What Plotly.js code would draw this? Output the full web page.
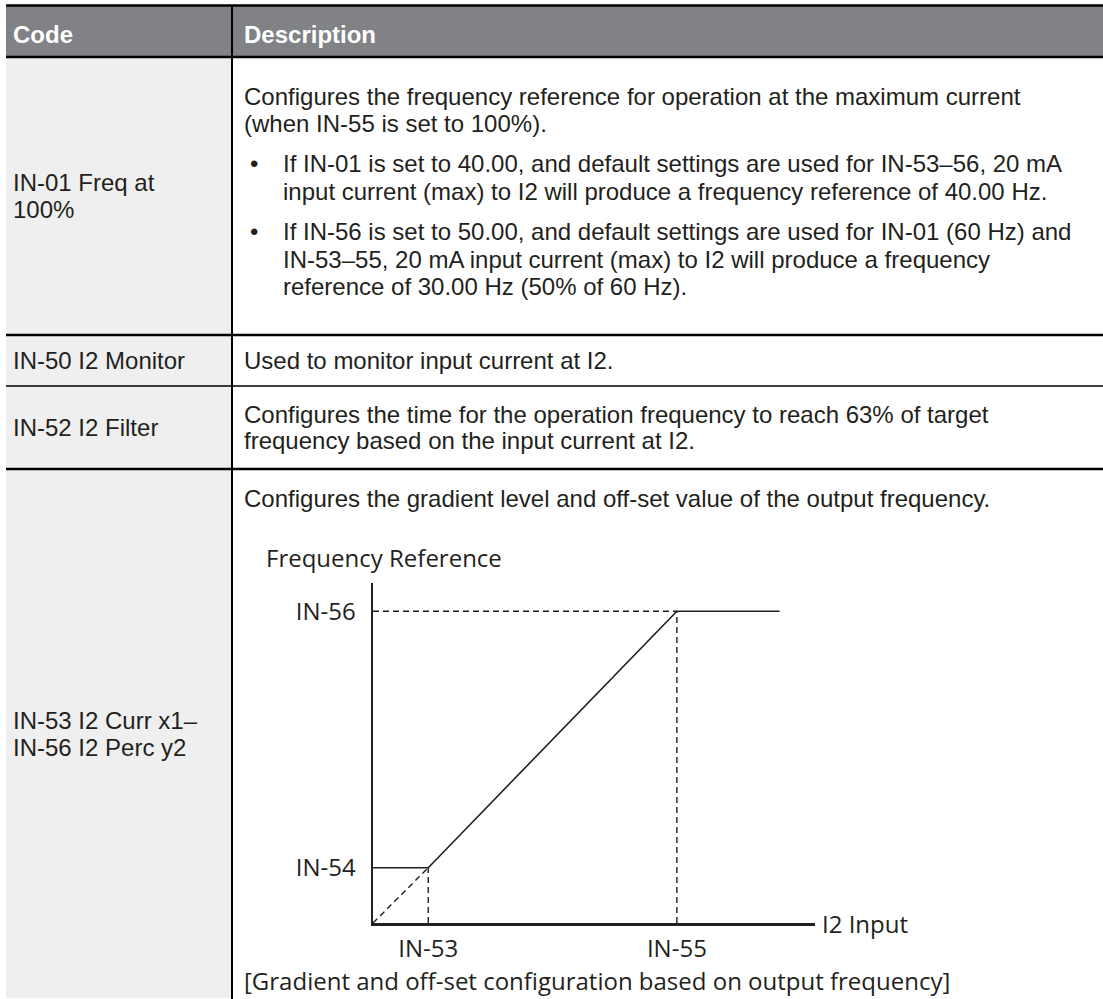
<!DOCTYPE html>
<html>
<head>
<meta charset="utf-8">
<script src="https://cdn.plot.ly/plotly-3.0.1.min.js"></script>
<style>html,body{margin:0;padding:0;background:#fff;}#chart{width:1103px;height:999px;}</style>
</head>
<body>
<div id="chart"></div>
<script>
// ---------- table content ----------
const headers = ['Code', 'Description'];
const codes = [
  ['IN-01 Freq at', '100%'],
  ['IN-50 I2 Monitor'],
  ['IN-52 I2 Filter'],
  ['IN-53 I2 Curr x1–', 'IN-56 I2 Perc y2']
];
const desc1Intro = ['Configures the frequency reference for operation at the maximum current',
                    '(when IN-55 is set to 100%).'];
const desc1Bullets = [
  ['If IN-01 is set to 40.00, and default settings are used for IN-53–56, 20 mA',
   'input current (max) to I2 will produce a frequency reference of 40.00 Hz.'],
  ['If IN-56 is set to 50.00, and default settings are used for IN-01 (60 Hz) and',
   'IN-53–55, 20 mA input current (max) to I2 will produce a frequency',
   'reference of 30.00 Hz (50% of 60 Hz).']
];
const desc2 = ['Used to monitor input current at I2.'];
const desc3 = ['Configures the time for the operation frequency to reach 63% of target',
               'frequency based on the input current at I2.'];
const desc4 = ['Configures the gradient level and off-set value of the output frequency.'];

// ---------- diagram content ----------
const yAxisTitle = 'Frequency Reference';
const xAxisTitle = 'I2 Input';
const caption = '[Gradient and off-set configuration based on output frequency]';
const xTickLabels = ['IN-53', 'IN-55'];
const xTickVals = [10, 55];
const yTickLabels = ['IN-54', 'IN-56'];
const yTickVals = [10, 56.4];
const curveX = [0, 10, 55, 73.6];
const curveY = [10, 10, 56.4, 56.4];

// ---------- layout helpers ----------
const W = 1103, H = 999;
const px = x => x / W;
const py = y => 1 - y / H;
const INK = '#231f20';
const TFONT = 'Liberation Sans, Arial, sans-serif';
const DFONT = 'Open Sans, Noto Sans, sans-serif';
const TSIZE = 24;

const shapes = [];
const annotations = [];
function rect(x0, y0, x1, y1, fill) {
  shapes.push({type: 'rect', xref: 'paper', yref: 'paper', x0: px(x0), x1: px(x1), y0: py(y1), y1: py(y0),
               fillcolor: fill, line: {width: 0}, layer: 'below'});
}
function hline(y, x0, x1, w) {
  shapes.push({type: 'line', xref: 'paper', yref: 'paper', x0: px(x0), x1: px(x1), y0: py(y), y1: py(y),
               line: {color: '#000', width: w}, layer: 'above'});
}
function vline(x, y0, y1, w) {
  shapes.push({type: 'line', xref: 'paper', yref: 'paper', x0: px(x), x1: px(x), y0: py(y0), y1: py(y1),
               line: {color: '#000', width: w}, layer: 'above'});
}
function text(t, x, y, opts) {
  opts = opts || {};
  annotations.push({xref: 'paper', yref: 'paper', x: px(x), y: py(y), xanchor: opts.xanchor || 'left',
    yanchor: 'middle', showarrow: false, text: t, borderpad: 0,
    font: {family: opts.family || TFONT, size: opts.size || TSIZE, color: opts.color || INK,
           weight: opts.weight || 'normal'}});
}

// table geometry
const tableL = 6, colDiv = 232, tableR = 1103;
const codeX = 12, descX = 243, bulletX = 249, bulletTextX = 282;
const LS = 27;

rect(tableL, 57, colDiv, 998, '#efefef');
rect(tableL, 6, tableR, 57, '#808285');
hline(5.5, tableL, tableR, 2.5);
hline(57, tableL, tableR, 2.5);
hline(335, tableL, tableR, 2.5);
hline(386, tableL, tableR, 1.3);
hline(469, tableL, tableR, 2.5);
vline(colDiv, 5, 999, 2);

// header
text(headers[0], codeX, 34, {color: '#fff', weight: 'bold'});
text(headers[1], descX, 34, {color: '#fff', weight: 'bold'});

// code column (vertically centered in each row)
const rowCenters = [196, 360.5, 427.5, 733.5];
codes.forEach((lines, i) => {
  const c = rowCenters[i];
  lines.forEach((ln, j) => text(ln, codeX, c + (j - (lines.length - 1) / 2) * LS));
});

// row 1 description
let y = 96;
desc1Intro.forEach(ln => { text(ln, descX, y); y += LS; });
y += 14;
desc1Bullets.forEach(b => {
  text('•', bulletX, y);
  b.forEach(ln => { text(ln, bulletTextX, y); y += LS; });
  y += 14;
});
// row 2, 3
desc2.forEach((ln, j) => text(ln, descX, 360.5 + j * LS));
desc3.forEach((ln, j) => text(ln, descX, 427.5 + (j - 0.5) * LS));
// row 4
desc4.forEach((ln, j) => text(ln, descX, 498 + j * LS));

// diagram labels
text(yAxisTitle, 265, 557, {family: DFONT, size: 24});
text(xAxisTitle, 821, 923, {family: DFONT, size: 24});
text(caption, descX, 980, {family: DFONT, size: 24});

// ---------- diagram traces ----------
const lineStyle = {color: INK, width: 1.6};
const dashStyle = {color: INK, width: 1.4, dash: '6px,4px'};
const traces = [
  {x: [0, xTickVals[0]], y: [0, yTickVals[0]], mode: 'lines', line: dashStyle},
  {x: [xTickVals[0], xTickVals[0]], y: [0, yTickVals[0]], mode: 'lines', line: dashStyle},
  {x: [xTickVals[1], xTickVals[1]], y: [0, yTickVals[1]], mode: 'lines', line: dashStyle},
  {x: [0, xTickVals[1]], y: [yTickVals[1], yTickVals[1]], mode: 'lines', line: dashStyle},
  {x: curveX, y: curveY, mode: 'lines', line: lineStyle}
].map(t => Object.assign(t, {type: 'scatter', hoverinfo: 'skip', cliponaxis: false}));

const layout = {
  width: W, height: H,
  margin: {l: 0, r: 0, t: 0, b: 0},
  paper_bgcolor: '#fff', plot_bgcolor: 'rgba(0,0,0,0)',
  showlegend: false,
  xaxis: {domain: [px(373), px(815)], range: [0, 80], showgrid: false, zeroline: false,
          showline: true, linecolor: INK, linewidth: 2.5, mirror: false,
          tickvals: xTickVals, ticktext: xTickLabels, ticks: '', ticklabelstandoff: 3,
          tickfont: {family: DFONT, size: 24, color: INK}, fixedrange: true},
  yaxis: {domain: [py(923), py(583)], range: [0, 61.5], showgrid: false, zeroline: false,
          showline: true, linecolor: INK, linewidth: 2.5,
          tickvals: yTickVals, ticktext: yTickLabels, ticks: '', ticklabelstandoff: 10,
          tickfont: {family: DFONT, size: 24, color: INK}, fixedrange: true},
  shapes: shapes,
  annotations: annotations
};

Plotly.newPlot('chart', traces, layout, {displayModeBar: false, staticPlot: true});
</script>
</body>
</html>
